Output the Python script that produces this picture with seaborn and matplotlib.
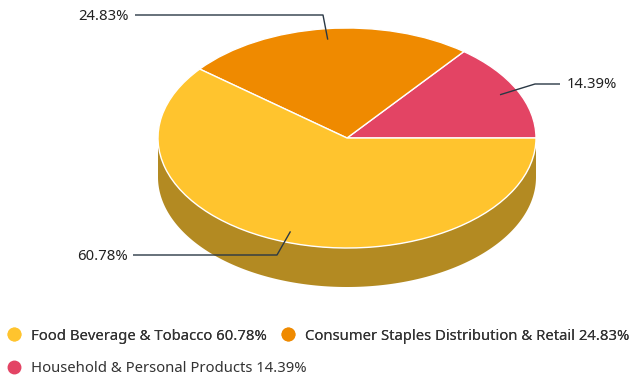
import numpy as np
import matplotlib
matplotlib.use("Agg")
import matplotlib.pyplot as plt
from matplotlib.lines import Line2D
from matplotlib.patches import Polygon
import seaborn as sns

categories = ["Food Beverage & Tobacco", "Consumer Staples Distribution & Retail", "Household & Personal Products"]
values = [60.78, 24.83, 14.39]
pct_labels = ["60.78%", "24.83%", "14.39%"]
colors = ["#FFC42E", "#EF8A00", "#E34464"]
side_colors = ["#B38A22", "#A86100", "#A03046"]

sns.set_theme(style="white")
plt.rcParams["font.family"] = ["Noto Sans", "DejaVu Sans"]

W, H = 632, 379
fig = plt.figure(figsize=(W / 100, H / 100), dpi=100)
ax = fig.add_axes([0, 0, 1, 1])

cx, cy, rx, ry = 347, 138, 189, 110
depth = 39 / ry
FS = 10.7
EM = FS * 100 / 72

# draw order: red, orange, yellow counterclockwise from east
order = [2, 1, 0]
vals = [values[i] for i in order]
cols = [colors[i] for i in order]
sides = [side_colors[i] for i in order]

# side walls (front-facing part of each slice)
total = sum(vals)
start = 0.0
mids = []
for v, sc in zip(vals, sides):
    a0 = start
    a1 = start + v / total * 360
    mids.append((a0 + a1) / 2)
    lo, hi = max(a0, 180), min(a1, 360)
    if hi > lo:
        t = np.radians(np.linspace(lo, hi, 200))
        top = np.column_stack([np.cos(t), np.sin(t)])
        bot = np.column_stack([np.cos(t[::-1]), np.sin(t[::-1]) - depth])
        ax.add_patch(Polygon(np.vstack([top, bot]), closed=True, facecolor=sc,
                             edgecolor="none", zorder=1))
    start = a1

wedges, _ = ax.pie(vals, colors=cols, startangle=0, counterclock=True, radius=1,
                   center=(0, 0),
                   wedgeprops=dict(edgecolor="white", linewidth=1, zorder=2))
for w in wedges:
    w.set_zorder(2)

ax.set_aspect("auto")
ax.set_xlim(-cx / rx, (W - cx) / rx)
ax.set_ylim(-(H - cy) / ry, cy / ry)
ax.axis("off")

def px(x, y):
    return (x - cx) / rx, (cy - y) / ry

# label layout: (elbow px, line end px, text px, ha) in order red, orange, yellow
layouts = [
    ((535, 84), (560, 84), (567, 85), "left"),
    ((323, 15), (135, 15), (129, 16), "right"),
    ((277, 255), (133, 255), (128, 256), "right"),
]
lab = [pct_labels[i] for i in order]
for m, (el, le, tp, ha), txt in zip(mids, layouts, lab):
    a = np.radians(m)
    ax_, ay_ = 0.9 * np.cos(a), 0.9 * np.sin(a)
    ex, ey = px(*el)
    lx, ly = px(*le)
    ax.plot([ax_, ex, lx], [ay_, ey, ly], color="#2A3845", lw=1, zorder=5,
            solid_capstyle="butt")
    tx, ty = px(*tp)
    ax.text(tx, ty, txt, ha=ha, va="center", fontsize=FS, color="#222222", zorder=6)

handles = [Line2D([], [], marker="o", linestyle="", markersize=9, color=c) for c in colors]
labels = [f"{c} {p}" for c, p in zip(categories, pct_labels)]
leg_kw = dict(frameon=False, fontsize=FS, handlelength=14 / EM, handletextpad=10 / EM,
              borderpad=0, borderaxespad=0, labelcolor="#333333", loc="center left")
leg1 = fig.legend(handles[:2], labels[:2], ncol=2, columnspacing=14 / EM,
                  bbox_to_anchor=(7 / W, 1 - 336 / H), **leg_kw)
fig.add_artist(leg1)
leg2 = fig.legend(handles[2:], labels[2:], ncol=1,
                  bbox_to_anchor=(7 / W, 1 - 369 / H), **leg_kw)

fig.savefig("out.png", dpi=100)
